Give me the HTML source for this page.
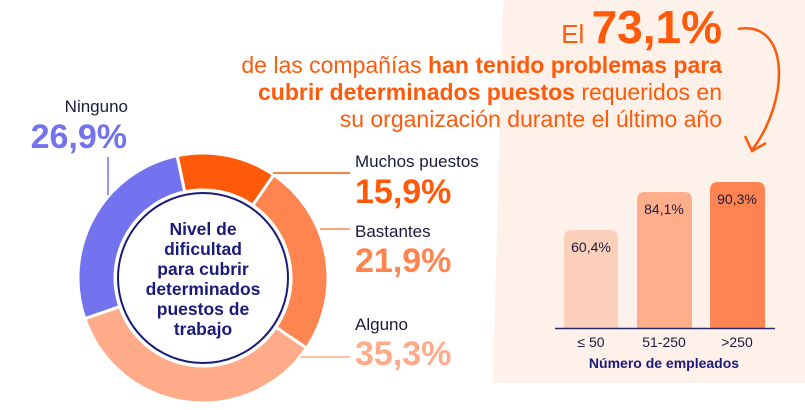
<!DOCTYPE html>
<html><head><meta charset="utf-8"><style>
body{margin:0;width:805px;height:410px;background:#fff;overflow:hidden;font-family:"Liberation Sans","DejaVu Sans",sans-serif}
svg{display:block}
</style></head><body>
<svg width="805" height="410" viewBox="0 0 805 410" xmlns="http://www.w3.org/2000/svg" font-family="Liberation Sans, DejaVu Sans, sans-serif">
<polygon points="503,0 805,0 805,383 493,383" fill="#fdf1ea"/>
<!-- header -->
<g fill="#ff5a0a" text-anchor="end">
<text x="722" y="43"><tspan font-size="26">El </tspan><tspan font-size="46" font-weight="bold">73,1%</tspan></text>
<text x="722" y="73" font-size="23">de las compañías <tspan font-weight="bold">han tenido problemas para</tspan></text>
<text x="722" y="100" font-size="23"><tspan font-weight="bold">cubrir determinados puestos</tspan> requeridos en</text>
<text x="722" y="127" font-size="23">su organización durante el último año</text>
</g>
<path d="M738,29 C790,20 790,100 752,150" fill="none" stroke="#ff5a0a" stroke-width="2.5"/>
<path d="M745,136 L752,151 L766,143" fill="none" stroke="#ff5a0a" stroke-width="2.5"/>
<!-- donut -->
<g transform="translate(203,278)" stroke="#fff" stroke-width="3">
<path d="M-25.9,-122.3 A125,125 0 0 1 70.7,-103.1 L49.8,-72.6 A88,88 0 0 0 -18.3,-86.1 Z" fill="#ff5a0a"/>
<path d="M70.7,-103.1 A125,125 0 0 1 103.5,70.0 L72.9,49.3 A88,88 0 0 0 49.8,-72.6 Z" fill="#ff8550"/>
<path d="M103.5,70.0 A125,125 0 0 1 -118.2,40.7 L-83.2,28.6 A88,88 0 0 0 72.9,49.3 Z" fill="#ffab8a"/>
<path d="M-118.2,40.7 A125,125 0 0 1 -25.9,-122.3 L-18.3,-86.1 A88,88 0 0 0 -83.2,28.6 Z" fill="#7373f0"/>
</g>
<circle cx="203" cy="278" r="85" fill="#fff" stroke="#1a1a7a" stroke-width="2"/>
<g fill="#1a1a7a" font-size="17.5" font-weight="bold" text-anchor="middle">
<text x="203" y="235">Nivel de</text>
<text x="203" y="255">dificultad</text>
<text x="203" y="275">para cubrir</text>
<text x="203" y="295">determinados</text>
<text x="203" y="315">puestos de</text>
<text x="203" y="335">trabajo</text>
</g>
<!-- leaders -->
<line x1="108" y1="157" x2="108" y2="195" stroke="#7373f0" stroke-width="1.5"/>
<line x1="273" y1="173" x2="350" y2="173" stroke="#ff5a0a" stroke-width="1.5"/>
<line x1="320" y1="229" x2="350" y2="229" stroke="#ff8550" stroke-width="1.5"/>
<line x1="300" y1="357" x2="350" y2="357" stroke="#ffab8a" stroke-width="1.5"/>
<!-- labels -->
<text x="128" y="112" font-size="17" fill="#1a1a3a" text-anchor="end">Ninguno</text>
<text x="127" y="148" font-size="34" font-weight="bold" fill="#7373f0" text-anchor="end">26,9%</text>
<g font-size="17" fill="#1a1a3a">
<text x="355" y="167">Muchos puestos</text>
<text x="355" y="237">Bastantes</text>
<text x="355" y="330">Alguno</text>
</g>
<g font-size="34" font-weight="bold">
<text x="355" y="203" fill="#ff5a0a">15,9%</text>
<text x="355" y="272" fill="#ff8550">21,9%</text>
<text x="355" y="365" fill="#ffab8a">35,3%</text>
</g>
<!-- bars -->
<path d="M564,328 V238 Q564,230 572,230 H610 Q618,230 618,238 V328 Z" fill="#fdd0bb"/>
<path d="M637,328 V200 Q637,192 645,192 H684 Q692,192 692,200 V328 Z" fill="#ffae8c"/>
<path d="M710,328 V190 Q710,182 718,182 H757 Q765,182 765,190 V328 Z" fill="#ff8452"/>
<line x1="555" y1="328.5" x2="775" y2="328.5" stroke="#2a2a6a" stroke-width="1.5"/>
<g font-size="14" fill="#1a1a3a" text-anchor="middle">
<text x="591" y="252">60,4%</text>
<text x="664" y="214">84,1%</text>
<text x="737" y="204">90,3%</text>
<text x="591" y="347">≤ 50</text>
<text x="664" y="347">51-250</text>
<text x="737" y="347">&gt;250</text>
</g>
<text x="664" y="368" font-size="14" font-weight="bold" fill="#1a1a7a" text-anchor="middle">Número de empleados</text>
</svg>
</body></html>
